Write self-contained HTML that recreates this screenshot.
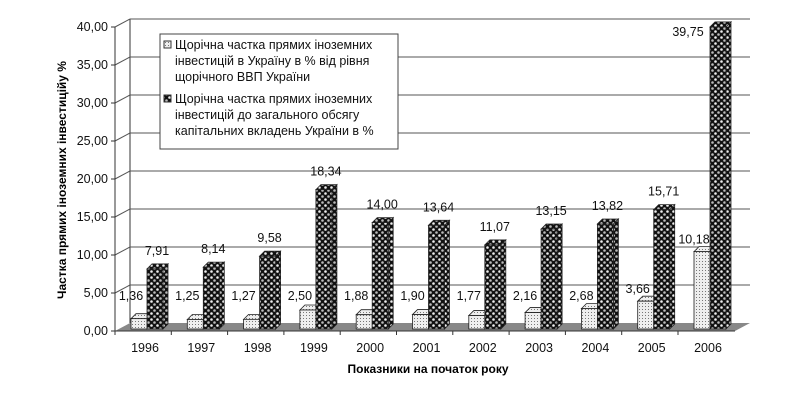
<!DOCTYPE html>
<html><head><meta charset="utf-8"><style>
body{margin:0;background:#fff;}
svg{display:block;font-family:"Liberation Sans",Arial,sans-serif;}
</style></head><body>
<svg width="800" height="402" viewBox="0 0 800 402">
<defs>
<pattern id="lt" width="3" height="3" patternUnits="userSpaceOnUse"><rect width="3" height="3" fill="#eee"/><rect width="1" height="1" fill="#777"/></pattern>
<pattern id="dk" width="6" height="6" patternUnits="userSpaceOnUse"><rect width="6" height="6" fill="#111"/><circle cx="1.5" cy="1.5" r="1.3" fill="#eee"/><circle cx="4.5" cy="4.5" r="1.3" fill="#bbb"/></pattern>
</defs>
<g stroke="#333" stroke-width="1" fill="none">
<line x1="130" y1="19" x2="130" y2="323"/>
</g>
<g id="grid"></g>
<polygon points="115,331 130,323 750,323 735,331" fill="#888"/>
<line x1="115" y1="27" x2="115" y2="331" stroke="#333"/>
<line x1="115" y1="331" x2="735" y2="331" stroke="#333"/>
<g id="bars"></g>
<g id="lbl" font-size="12.5" fill="#111"></g>
<g font-size="12.5" fill="#111" text-anchor="middle" id="xl"></g>
<text x="428" y="373" font-size="12" font-weight="bold" text-anchor="middle">Показники на початок року</text>
<text transform="translate(66,180) rotate(-90)" font-size="12" font-weight="bold" text-anchor="middle">Частка прямих іноземних інвестиційу %</text>
<rect x="160" y="34" width="238" height="115" fill="#fff" stroke="#444"/>
<g font-size="12.5" fill="#111">
<rect x="164" y="41" width="7" height="7" fill="url(#lt)" stroke="#333"/>
<text x="175" y="49">Щорічна частка прямих іноземних</text>
<text x="175" y="65">інвестицій в Україну в % від рівня</text>
<text x="175" y="81">щорічного ВВП України</text>
<rect x="164" y="95" width="7" height="7" fill="url(#dk)" stroke="#333"/>
<text x="175" y="103">Щорічна частка прямих іноземних</text>
<text x="175" y="119">інвестицій до загального обсягу</text>
<text x="175" y="135">капітальних вкладень України в %</text>
</g>
</svg>
<script>
var ns="http://www.w3.org/2000/svg";
function el(p,t,a,txt){var e=document.createElementNS(ns,t);for(var k in a)e.setAttribute(k,a[k]);if(txt)e.textContent=txt;document.getElementById(p).appendChild(e);return e;}
for(var i=0;i<=8;i++){var y=331-i*38;
 if(i>0){el("grid","line",{x1:115,y1:y,x2:130,y2:y-8,stroke:"#555"});el("grid","line",{x1:130,y1:y-8,x2:750,y2:y-8,stroke:"#555"});}
 el("grid","line",{x1:111,y1:y,x2:115,y2:y,stroke:"#333"});
 el("lbl","text",{x:108,y:y+4,"text-anchor":"end"},(i*5).toFixed(2).replace(".",","));}
var A=[1.36,1.25,1.27,2.50,1.88,1.90,1.77,2.16,2.68,3.66,10.18],B=[7.91,8.14,9.58,18.34,14.00,13.64,11.07,13.15,13.82,15.71,39.75];
function bar(x,v,f){var b=329,t=b-v*7.6,w=16,d=5;
 el("bars","polygon",{points:[x+w,b,x+w+d,b-d,x+w+d,t-d,x+w,t].join(","),fill:f,stroke:"#222","stroke-width":0.8});
 el("bars","polygon",{points:[x,t,x+d,t-d,x+w+d,t-d,x+w,t].join(","),fill:f,stroke:"#222","stroke-width":0.8});
 el("bars","rect",{x:x,y:t,width:w,height:b-t,fill:f,stroke:"#222","stroke-width":0.8});return t;}
for(var i=0;i<11;i++){var cx=145+i*56.3;
 el("xl","text",{x:cx,y:352},String(1996+i));
 el("grid","line",{x1:115+i*56.3,y1:331,x2:115+i*56.3,y2:335,stroke:"#333"});
 var ta=bar(cx-14,A[i],"url(#lt)"),tb=bar(cx+2,B[i],"url(#dk)");
 el("lbl","text",{x:cx-14,y:Math.min(ta-8,300),"text-anchor":"middle"},A[i].toFixed(2).replace(".",","));
 if(i==10) el("lbl","text",{x:cx-20,y:36,"text-anchor":"middle"},"39,75");
 else el("lbl","text",{x:cx+12,y:tb-14,"text-anchor":"middle"},B[i].toFixed(2).replace(".",","));}
</script>
</body></html>
